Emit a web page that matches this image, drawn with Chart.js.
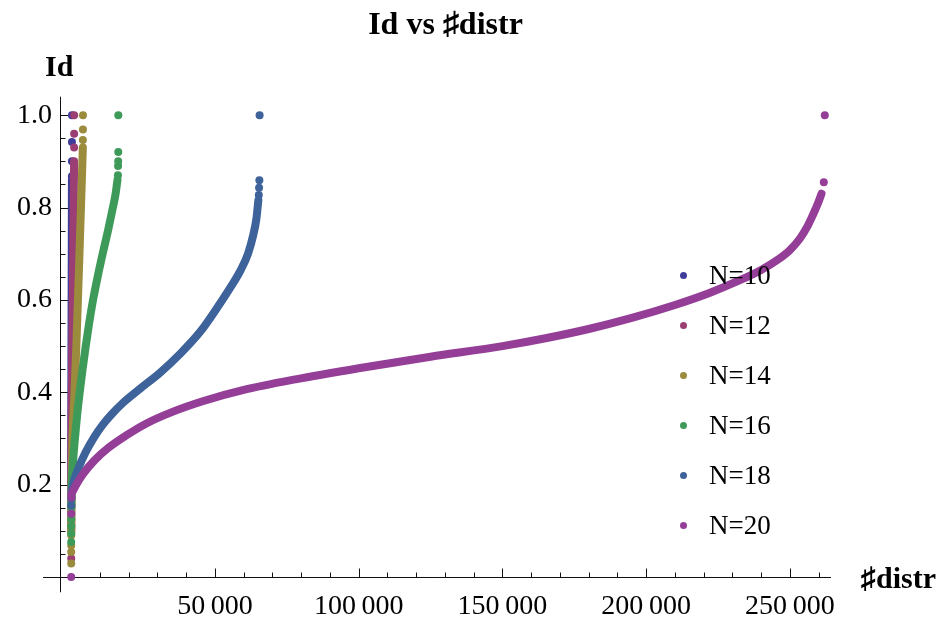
<!DOCTYPE html>
<html>
<head>
<meta charset="utf-8">
<title>Id vs #distr</title>
<script src="https://cdn.jsdelivr.net/npm/chart.js@4.4.1/dist/chart.umd.min.js"></script>
<style>
  html, body { margin: 0; padding: 0; background: #fff; }
  #wrap { position: relative; width: 950px; height: 621px; overflow: hidden; }
  #chart { position: absolute; left: 0; top: 0; }
  .axisTitle {
    position: absolute;
    font-family: "Liberation Serif", "DejaVu Serif", serif;
    font-weight: bold;
    font-size: 30px;
    line-height: 30px;
    color: #000;
    white-space: nowrap;
  }
  .legItem {
    position: absolute;
    font-family: "Liberation Serif", "DejaVu Serif", serif;
    font-size: 27px;
    line-height: 28px;
    color: #000;
    white-space: nowrap;
  }
  .legDot { position: absolute; width: 7px; height: 7px; border-radius: 50%; }
</style>
</head>
<body>
<div id="wrap">
  <canvas id="chart" width="950" height="621"></canvas>
  <div class="axisTitle" id="yTitle" style="left:45px; top:51px;">Id</div>
  <div class="axisTitle" id="xTitle" style="left:861px; top:563px;">&#9839;distr</div>
  <div id="legend"></div>
</div>
<script>
// series: sorted Id of every distribution, x = its rank (#distr)
const seriesNames = ["N=10", "N=12", "N=14", "N=16", "N=18", "N=20"];
const seriesColors = ["#3e3e9a", "#9a3e74", "#9b8b3d", "#3e9a58", "#3e629a", "#943e98"];

// dense part of each curve, [#distr, Id]
const curveN10 = [[2, 0.2], [20, 0.3], [50, 0.4], [90, 0.5], [140, 0.6], [190, 0.7], [225, 0.8], [245, 0.86]];
const curveN12 = [[5, 0.1], [30, 0.2], [100, 0.3], [220, 0.4], [380, 0.5], [550, 0.6], [720, 0.7], [860, 0.8], [960, 0.87], [1000, 0.9]];
const curveN14 = [[10, 0.09], [60, 0.15], [200, 0.22], [450, 0.3], [1150, 0.4], [1780, 0.5], [2340, 0.6], [2870, 0.7],
                  [3390, 0.8], [3750, 0.87], [4000, 0.92], [4050, 0.93]];
const curveN16 = [[30, 0.15], [200, 0.2], [650, 0.25], [1300, 0.3], [2050, 0.35], [2950, 0.4], [3950, 0.45], [5050, 0.5],
                  [6250, 0.55], [7600, 0.6], [9200, 0.65], [10950, 0.7], [12800, 0.75], [14500, 0.8], [15450, 0.83], [16100, 0.86]];
const curveN18 = [[100, 0.185], [800, 0.205], [2500, 0.235], [5000, 0.27], [8000, 0.303], [11000, 0.33], [14000, 0.352],
                  [18000, 0.377], [24000, 0.408], [31000, 0.443], [38000, 0.484], [45000, 0.532], [51000, 0.585],
                  [55500, 0.628], [59000, 0.665], [61500, 0.7], [63300, 0.74], [64400, 0.775], [65100, 0.816]];
const curveN20 = [[100, 0.18], [1500, 0.197], [4000, 0.222], [8000, 0.252], [13000, 0.28], [19000, 0.306], [26000, 0.332],
                  [35000, 0.357], [46000, 0.381], [60000, 0.405], [78000, 0.428], [100000, 0.452], [125000, 0.477],
                  [150000, 0.5], [165000, 0.517], [180000, 0.537], [195000, 0.561], [210000, 0.589], [222000, 0.615],
                  [232000, 0.641], [240000, 0.665], [246000, 0.688], [250000, 0.708], [253500, 0.733], [256000, 0.758],
                  [258000, 0.784], [259700, 0.808], [261000, 0.83]];

// isolated points at both ends of each curve
const dotsN10 = [[0, 0.155], [1, 0.175], [249, 0.868], [251, 0.9], [253, 0.942], [256, 1.0]];
const dotsN12 = [[0, 0.04], [1010, 0.93], [1018, 0.96], [1024, 1.0]];
const dotsN14 = [[0, 0.029], [2, 0.054], [4, 0.068], [4060, 0.946], [4078, 0.969], [4096, 1.0]];
const dotsN16 = [[0, 0.076], [5, 0.094], [10, 0.11], [20, 0.125], [16250, 0.87], [16300, 0.89], [16340, 0.9], [16370, 0.92], [16384, 1.0]];
const dotsN18 = [[0, 0.155], [50, 0.17], [65250, 0.827], [65350, 0.843], [65450, 0.859], [65536, 1.0]];
const dotsN20 = [[0, 0.0], [20, 0.137], [60, 0.172], [261800, 0.855], [262144, 1.0]];

const curves = [curveN10, curveN12, curveN14, curveN16, curveN18, curveN20];
const dots = [dotsN10, dotsN12, dotsN14, dotsN16, dotsN18, dotsN20];

// ticks
const xTickValues = [50000, 100000, 150000, 200000, 250000];
const xTickLabels = ["50\u2009000", "100\u2009000", "150\u2009000", "200\u2009000", "250\u2009000"];
const xMinorStep = 10000;
const yTickValues = [0.2, 0.4, 0.6, 0.8, 1.0];
const yTickLabels = ["0.2", "0.4", "0.6", "0.8", "1.0"];
const yMinorStep = 0.05;

// plot range (y axis sits at xMin, x axis at Id = 0)
const xMin = -3900, xMax = 264300;
const yMin = 0, yMax = 1.04;
const xAxisFrom = -9800;   // x axis line sticks out left of the y axis
const yAxisTo = -0.033;    // y axis line sticks out below the x axis

const serif = '"Liberation Serif", "DejaVu Serif", serif';
const toXY = arr => arr.map(p => ({ x: p[0], y: p[1] }));

const datasets = [];
seriesNames.forEach((name, i) => {
  const order = seriesNames.length - i; // last series on top, like the original
  datasets.push({
    label: name,
    data: toXY(curves[i]),
    showLine: true,
    borderColor: seriesColors[i],
    backgroundColor: seriesColors[i],
    borderWidth: 8,
    borderCapStyle: "round",
    borderJoinStyle: "round",
    cubicInterpolationMode: "monotone",
    pointRadius: 0,
    pointHoverRadius: 0,
    fill: false,
    clip: false,
    order: order
  });
  datasets.push({
    label: name + " (ends)",
    data: toXY(dots[i]),
    showLine: false,
    backgroundColor: seriesColors[i],
    borderWidth: 0,
    pointRadius: 4,
    pointHoverRadius: 4,
    clip: false,
    order: order
  });
});

// axes drawn crossing like Mathematica, with inward tick marks
const crossAxes = {
  id: "crossAxes",
  beforeDatasetsDraw(chart) {
    const { ctx } = chart;
    const xs = chart.scales.x, ys = chart.scales.y;
    const ox = Math.round(xs.getPixelForValue(xMin)) + 0.5;
    const oy = Math.round(ys.getPixelForValue(0)) + 0.5;
    ctx.save();
    ctx.strokeStyle = "#111";
    ctx.lineWidth = 1;
    ctx.beginPath();
    ctx.moveTo(xs.getPixelForValue(xAxisFrom), oy);
    ctx.lineTo(xs.getPixelForValue(xMax), oy);
    ctx.moveTo(ox, ys.getPixelForValue(yMax));
    ctx.lineTo(ox, ys.getPixelForValue(yAxisTo));
    xs.ticks.forEach(t => {
      const px = Math.round(xs.getPixelForValue(t.value)) + 0.5;
      const len = xTickValues.includes(t.value) ? 9 : 5;
      ctx.moveTo(px, oy);
      ctx.lineTo(px, oy - len);
    });
    ys.ticks.forEach(t => {
      const py = Math.round(ys.getPixelForValue(t.value)) + 0.5;
      const len = yTickValues.includes(t.value) ? 8 : 5;
      ctx.moveTo(ox, py);
      ctx.lineTo(ox + len, py);
    });
    ctx.stroke();
    ctx.restore();
  }
};

const chart = new Chart(document.getElementById("chart"), {
  type: "scatter",
  data: { datasets: datasets },
  plugins: [crossAxes],
  options: {
    responsive: false,
    animation: false,
    devicePixelRatio: 1,
    events: [],
    layout: { padding: { left: 0, right: 119, top: 0, bottom: 0 } },
    scales: {
      x: {
        type: "linear",
        min: xMin,
        max: xMax,
        grid: { display: false, drawTicks: false },
        border: { display: false },
        afterBuildTicks: scale => {
          const t = [];
          for (let v = xMinorStep; v <= xMax; v += xMinorStep) t.push({ value: v });
          scale.ticks = t;
        },
        afterFit: scale => { scale.height = 44; },
        ticks: {
          autoSkip: false,
          maxRotation: 0,
          minRotation: 0,
          padding: 13,
          color: "#000",
          font: { family: serif, size: 28 },
          callback: v => {
            const k = xTickValues.indexOf(v);
            return k >= 0 ? xTickLabels[k] : "";
          }
        }
      },
      y: {
        type: "linear",
        min: yMin,
        max: yMax,
        grid: { display: false, drawTicks: false },
        border: { display: false },
        afterBuildTicks: scale => {
          const t = [];
          for (let k = 1; k * yMinorStep <= 1.0001; k++) t.push({ value: +(k * yMinorStep).toFixed(2) });
          scale.ticks = t;
        },
        afterFit: scale => { scale.width = 60; },
        ticks: {
          autoSkip: false,
          padding: 8,
          color: "#000",
          font: { family: serif, size: 28 },
          callback: v => {
            const k = yTickValues.indexOf(v);
            return k >= 0 ? yTickLabels[k] : "";
          }
        }
      }
    },
    plugins: {
      legend: { display: false },
      tooltip: { enabled: false },
      title: {
        display: true,
        text: "Id vs \u266Fdistr",
        fullSize: false,
        color: "#000",
        font: { family: serif, size: 32, weight: "bold" },
        padding: { top: 7, bottom: 51.3 }
      }
    }
  }
});

// legend inside the plot, built from the series names and colours
const legendEl = document.getElementById("legend");
seriesNames.forEach((name, i) => {
  const cy = 275 + i * 50;
  const dot = document.createElement("div");
  dot.className = "legDot";
  dot.style.left = "679.5px";
  dot.style.top = (cy - 3.5) + "px";
  dot.style.background = seriesColors[i];
  legendEl.appendChild(dot);
  const txt = document.createElement("div");
  txt.className = "legItem";
  txt.style.left = "709px";
  txt.style.top = (cy - 14) + "px";
  txt.textContent = name;
  legendEl.appendChild(txt);
});
</script>
</body>
</html>
